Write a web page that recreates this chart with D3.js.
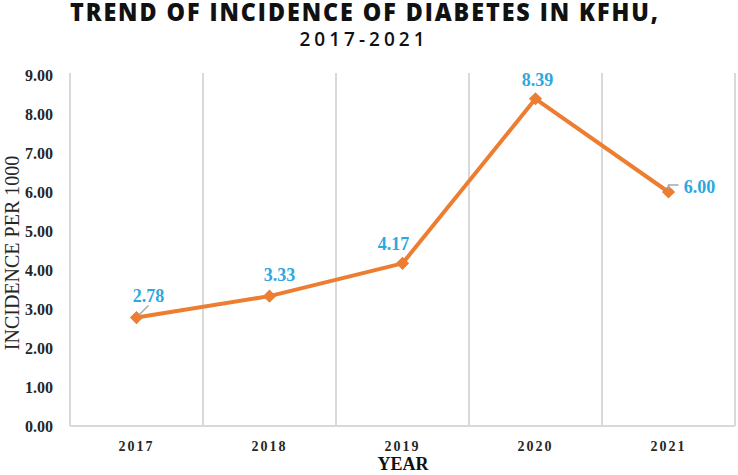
<!DOCTYPE html>
<html><head><meta charset="utf-8">
<script src="https://cdn.jsdelivr.net/npm/d3@7"></script>
<style>body{margin:0;background:#fff}svg{display:block}</style>
</head><body>
<svg id="c" width="738" height="475"></svg>
<script>
const years = ["2017","2018","2019","2020","2021"];
const incidence = [2.78, 3.33, 4.17, 8.39, 6.00];
const yTicks = [0,1,2,3,4,5,6,7,8,9];
const titleLines = ["TREND OF INCIDENCE OF DIABETES IN KFHU,", "2017-2021"];
const yTitle = "INCIDENCE PER 1000";
const xTitle = "YEAR";

const svg = d3.select("#c");
const m = {left:70, right:3, top:75, bottom:49};
const W = 738, H = 475;
const x = d3.scaleBand().domain(years).range([m.left, W - m.right]);
const y = d3.scaleLinear().domain([0,9]).range([H - m.bottom, m.top]);

// vertical gridlines at band boundaries
const bounds = years.map(d => x(d)).concat([x.range()[1]]);
svg.append("g").selectAll("line").data(bounds.slice(1)).join("line")
  .attr("x1", d=>d).attr("x2", d=>d).attr("y1", y(9)-2).attr("y2", y(0))
  .attr("stroke", "#d9d9d9").attr("stroke-width", 2);
svg.append("line").attr("x1", m.left).attr("x2", m.left).attr("y1", y(9)-2).attr("y2", y(0))
  .attr("stroke", "#d9d9d9").attr("stroke-width", 2);
svg.append("line").attr("x1", m.left).attr("x2", x.range()[1]).attr("y1", y(0)).attr("y2", y(0))
  .attr("stroke", "#d9d9d9").attr("stroke-width", 2);

// y axis labels
const yAxis = d3.axisLeft(y).tickValues(yTicks).tickFormat(d3.format(".2f")).tickSize(0).tickPadding(17);
const gy = svg.append("g").attr("transform", `translate(${m.left},0)`).call(yAxis);
gy.select(".domain").remove();
gy.selectAll("text").attr("font-family","'Liberation Serif', serif").attr("font-weight","bold")
  .attr("font-size", 16).attr("fill","#262626");

// x axis labels
const xAxis = d3.axisBottom(x).tickSize(0).tickPadding(15);
const gx = svg.append("g").attr("transform", `translate(0,${y(0)})`).call(xAxis);
gx.select(".domain").remove();
gx.selectAll("text").attr("font-family","'Liberation Serif', serif").attr("font-weight","bold")
  .attr("font-size", 14).attr("letter-spacing", "2px").attr("fill","#262626");

// line
const cx = d => x(d) + x.bandwidth()/2;
const line = d3.line().x((d,i)=>cx(years[i])).y(d=>y(d));
svg.append("path").datum(incidence).attr("d", line).attr("fill","none")
  .attr("stroke","#ED7D31").attr("stroke-width",4).attr("stroke-linejoin","round");
svg.append("g").selectAll("path").data(incidence).join("path")
  .attr("d", d3.symbol(d3.symbolDiamond2, 110))
  .attr("transform", (d,i)=>`translate(${cx(years[i])},${y(d)})`)
  .attr("fill","#ED7D31");

// leader lines (for 2017 and 2021)
svg.append("line").attr("x1", cx("2017")+3).attr("y1", y(2.78)-3).attr("x2", cx("2017")+12).attr("y2", y(2.78)-12)
  .attr("stroke","#a6a6a6").attr("stroke-width",1.5);
svg.append("path").attr("d", `M${cx("2021")},${y(6)-3} L${cx("2021")},${y(6)-7} L${cx("2021")+10},${y(6)-7}`)
  .attr("fill","none").attr("stroke","#a6a6a6").attr("stroke-width",1.5);

// data labels
const labelOffsets = [[12,-16],[10,-15],[-9,-13],[2,-13],[31,1]];
svg.append("g").selectAll("text").data(incidence).join("text")
  .attr("x", (d,i)=>cx(years[i]) + labelOffsets[i][0])
  .attr("y", (d,i)=>y(d) + labelOffsets[i][1])
  .attr("text-anchor","middle")
  .attr("font-family","'Liberation Serif', serif").attr("font-weight","bold").attr("font-size",18)
  .attr("fill","#2EA7E0")
  .text(d=>d3.format(".2f")(d));

// titles
svg.append("text").attr("x", 365).attr("y", 21).attr("text-anchor","middle")
  .attr("font-family","'Open Sans', sans-serif").attr("font-weight",800).attr("font-size",24)
  .attr("letter-spacing","2px").attr("textLength", 590).attr("lengthAdjust","spacingAndGlyphs")
  .attr("fill","#111").text(titleLines[0]);
svg.append("text").attr("x", 364).attr("y", 46).attr("text-anchor","middle")
  .attr("font-family","'Open Sans', sans-serif").attr("font-weight",600).attr("font-size",19)
  .attr("letter-spacing","4px").attr("fill","#111").text(titleLines[1]);

svg.append("text").attr("transform", `translate(19,253) rotate(-90)`)
  .attr("text-anchor","middle").attr("font-family","'Liberation Serif', serif").attr("font-size",20)
  .attr("fill","#262626").text(yTitle);
svg.append("text").attr("x", 403).attr("y", 470).attr("text-anchor","middle")
  .attr("font-family","'Liberation Serif', serif").attr("font-weight","bold").attr("font-size",18)
  .attr("fill","#111").text(xTitle);
</script>
</body></html>
